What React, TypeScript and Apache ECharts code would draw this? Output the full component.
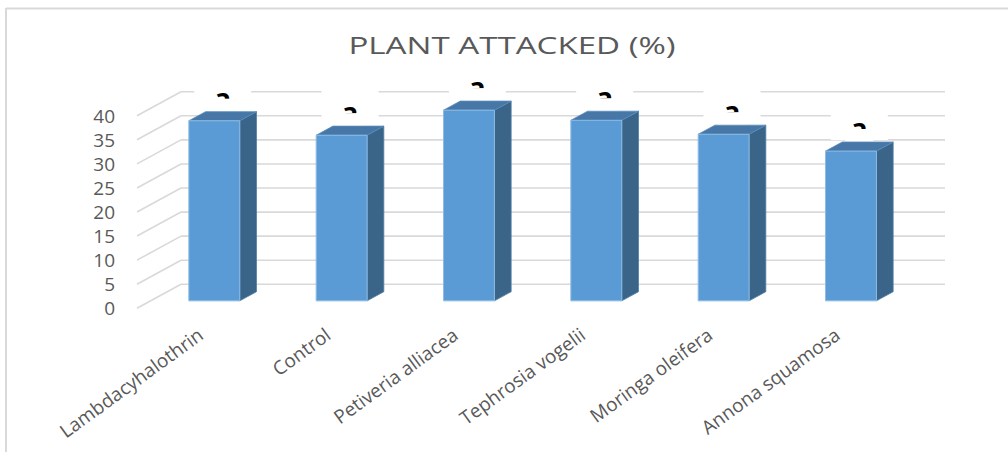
import React, { useEffect, useRef } from "react";
import * as echarts from "echarts";

const title = "PLANT ATTACKED (%)";
const categories = [
  "Lambdacyhalothrin",
  "Control",
  "Petiveria alliacea",
  "Tephrosia vogelii",
  "Moringa oleifera",
  "Annona squamosa",
];
const values = [37.4, 34.4, 39.6, 37.5, 34.6, 31.1];
const letters = ["a", "a", "a", "a", "a", "a"];
const yTicks = [0, 5, 10, 15, 20, 25, 30, 35, 40];

// 3D projection style (pixels)
const DX = 44;
const DY = -24;
const BAR_FRONT = 0.31;
const BAR_BACK = 0.69;
const BAR_WIDTH_RATIO = 0.4;
const GRID_COLOR = "#d9d9d9";
const TEXT_COLOR = "#595959";

function barGeom(params: any, api: any) {
  const idx = api.value(0);
  const v = api.value(1);
  const top = api.coord([idx, v]);
  const base = api.coord([idx, 0]);
  const bw = api.size([1, 0])[0] * BAR_WIDTH_RATIO;
  const ox = DX * BAR_FRONT;
  const oy = DY * BAR_FRONT;
  const dx = DX * (BAR_BACK - BAR_FRONT);
  const dy = DY * (BAR_BACK - BAR_FRONT);
  const xl = top[0] + ox - bw / 2;
  const xr = xl + bw;
  const yt = top[1] + oy;
  const yb = base[1] + oy;
  return { xl, xr, yt, yb, dx, dy, bw };
}

export default function App() {
  const ref = useRef<HTMLDivElement>(null);
  useEffect(() => {
    if (!ref.current) return;
    const chart = echarts.init(ref.current, undefined, { renderer: "svg" });
    const option: any = {
      animation: false,
      backgroundColor: "#ffffff",
      grid: { left: 137, right: 107, top: 115.7, bottom: 143.7 },
      graphic: [
        {
          type: "line",
          shape: { x1: 6, y1: 8.5, x2: 1008, y2: 8.5 },
          style: { stroke: GRID_COLOR, lineWidth: 2 },
        },
        {
          type: "line",
          shape: { x1: 6, y1: 8, x2: 6, y2: 452 },
          style: { stroke: GRID_COLOR, lineWidth: 2 },
        },
        {
          type: "text",
          x: 512,
          y: 44,
          scaleX: 1.38,
          style: {
            text: title,
            x: 0,
            y: 0,
            align: "center",
            verticalAlign: "middle",
            font: '24px "Open Sans"',
            fill: TEXT_COLOR,
          },
        },
      ],
      xAxis: {
        type: "category",
        data: categories,
        axisLine: { show: false },
        axisTick: { show: false },
        splitLine: { show: false },
        axisLabel: {
          interval: 0,
          rotate: 36,
          margin: 24,
          fontSize: 19,
          fontFamily: "Open Sans",
          color: TEXT_COLOR,
        },
      },
      yAxis: {
        type: "value",
        min: 0,
        max: 40,
        interval: 5,
        axisLine: { show: false },
        axisTick: { show: false },
        splitLine: { show: false },
        axisLabel: {
          margin: 22,
          fontSize: 19,
          fontFamily: "Open Sans",
          color: TEXT_COLOR,
        },
      },
      series: [
        {
          type: "custom",
          name: "grid",
          clip: false,
          silent: true,
          data: yTicks.map((v) => [0, v]),
          renderItem: (params: any, api: any) => {
            const cs = params.coordSys;
            const y = api.coord([0, api.value(1)])[1];
            const x0 = cs.x;
            const x1 = cs.x + cs.width;
            return {
              type: "group",
              children: [
                {
                  type: "line",
                  shape: { x1: x0, y1: y, x2: x0 + DX, y2: y + DY },
                  style: { stroke: GRID_COLOR, lineWidth: 1.6 },
                },
                {
                  type: "line",
                  shape: { x1: x0 + DX, y1: y + DY, x2: x1 + DX, y2: y + DY },
                  style: { stroke: GRID_COLOR, lineWidth: 1.6 },
                },
              ],
            };
          },
        },
        {
          type: "custom",
          name: "PLANT ATTACKED (%)",
          clip: false,
          data: values.map((v, i) => [i, v]),
          renderItem: (params: any, api: any) => {
            const g = barGeom(params, api);
            const { xl, xr, yt, yb, dx, dy, bw } = g;
            return {
              type: "group",
              children: [
                {
                  type: "polygon",
                  shape: {
                    points: [
                      [xr, yt],
                      [xr + dx, yt + dy],
                      [xr + dx, yb + dy],
                      [xr, yb],
                    ],
                  },
                  style: { fill: "#3a6589", stroke: "#4f7fa8", lineWidth: 0.8 },
                },
                {
                  type: "polygon",
                  shape: {
                    points: [
                      [xl, yt],
                      [xr, yt],
                      [xr + dx, yt + dy],
                      [xl + dx, yt + dy],
                    ],
                  },
                  style: { fill: "#4677a6", stroke: "#5a8cbc", lineWidth: 0.8 },
                },
                {
                  type: "rect",
                  shape: { x: xl, y: yt, width: bw, height: yb - yt },
                  style: { fill: "#5b9bd5", stroke: "#8dbbe3", lineWidth: 1 },
                },
              ],
            };
          },
        },
        {
          type: "custom",
          name: "labels",
          clip: false,
          silent: true,
          data: values.map((v, i) => [i, v]),
          renderItem: (params: any, api: any) => {
            const g = barGeom(params, api);
            const cx = (g.xl + g.xr) / 2 + g.dx / 2;
            const arcTop = g.yt + g.dy - 22;
            return {
              type: "group",
              children: [
                {
                  type: "rect",
                  shape: { x: cx - 28.5, y: arcTop - 18, width: 57, height: 38 },
                  style: { fill: "#ffffff" },
                },
                {
                  type: "text",
                  style: {
                    text: letters[params.dataIndex],
                    x: cx,
                    y: arcTop + 8,
                    align: "center",
                    verticalAlign: "middle",
                    font: 'bold 28px "Open Sans"',
                    fill: "#000000",
                  },
                },
                {
                  type: "rect",
                  shape: { x: cx - 14, y: arcTop + 9, width: 28, height: 12 },
                  style: { fill: "#ffffff" },
                },
              ],
            };
          },
        },
      ],
    };
    chart.setOption(option);
    return () => chart.dispose();
  }, []);
  return (
    <div
      ref={ref}
      style={{ position: "fixed", left: 0, top: 0, width: 1008, height: 452 }}
    />
  );
}
